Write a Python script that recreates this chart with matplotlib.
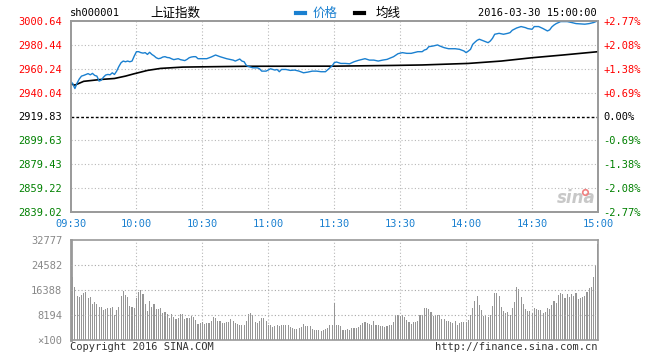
import matplotlib
matplotlib.use("Agg")
from matplotlib import pyplot as plt

# price line vertices (minute index from 09:30, price)
price_idx = [0, 1, 2, 3, 4, 5, 6, 7, 8, 9, 10, 11, 12, 13, 14, 15, 16, 17, 18, 19,
             20, 21, 22, 23, 24, 25, 26, 27, 28, 29, 30, 31, 32, 33, 34, 35, 36, 37, 38, 39,
             40, 41, 42, 43, 44, 45, 46, 47, 48, 49, 50, 51, 52, 53, 54, 55, 56, 57, 58,
             60, 62, 64, 66, 68, 71, 74, 75, 77, 78, 79, 80, 81, 83, 85, 86, 87, 89, 91,
             93, 94, 95, 96, 98, 100, 102, 104, 106, 108, 110, 112, 114, 116, 118, 119,
             120, 121, 123, 125, 127, 129, 131, 134, 136, 138, 140, 142, 144, 147, 149,
             151, 153, 155, 158, 160, 161, 162, 163, 165, 167, 168, 170, 172, 175, 177,
             179, 180, 181, 182, 183, 184, 185, 186, 188, 190, 191, 192, 193, 195, 197,
             199, 200, 201, 203, 205, 207, 208, 210, 211, 213, 215, 217, 218, 219, 220,
             221, 223, 226, 228, 230, 234, 236, 238, 239, 240]
price = [2949.7, 2947.5, 2943.4, 2948.0, 2951.5, 2953.9, 2954.5, 2955.3, 2956.0, 2955.0,
         2956.2, 2954.5, 2953.9, 2949.7, 2950.5, 2953.0, 2954.8, 2955.3, 2955.0, 2956.7,
         2955.3, 2958.1, 2962.0, 2965.2, 2966.6, 2966.0, 2966.6, 2966.0, 2966.6, 2970.8,
         2974.5, 2974.5, 2973.7, 2973.3, 2973.7, 2972.2, 2974.0, 2972.2, 2971.0, 2969.4,
         2968.6, 2969.0, 2970.0, 2970.3, 2969.6, 2969.4, 2968.5, 2967.8, 2968.2, 2968.6,
         2967.8, 2967.4, 2967.0, 2968.0, 2969.4, 2970.0, 2970.3, 2970.3, 2968.6,
         2968.6, 2968.6, 2970.0, 2971.7, 2970.3, 2968.6, 2967.4, 2966.6, 2968.3, 2966.6,
         2966.0, 2962.9, 2962.0, 2960.9, 2960.9, 2960.1, 2958.1, 2958.1, 2960.1,
         2959.0, 2959.5, 2957.6, 2959.5, 2959.5, 2958.7, 2959.0, 2958.1, 2956.7, 2957.3,
         2958.1, 2958.1, 2957.6, 2957.6, 2960.9, 2962.4,
         2965.2, 2965.8, 2964.6, 2964.6, 2964.3, 2966.0, 2967.2, 2968.6, 2967.4, 2967.4,
         2966.6, 2967.4, 2968.0, 2970.3, 2972.8,
         2973.7, 2973.1, 2973.1, 2974.5, 2974.5, 2975.9, 2976.5, 2978.7, 2979.3, 2980.2,
         2979.3, 2977.9, 2977.0, 2977.0, 2976.5,
         2975.1, 2973.7, 2975.0, 2976.5, 2980.7, 2982.5, 2984.1, 2985.0, 2983.5, 2982.1,
         2983.5, 2985.8, 2989.2, 2990.0, 2989.2,
         2990.0, 2990.6, 2992.6, 2994.5, 2995.7, 2994.8, 2994.0, 2993.4, 2995.7, 2995.7,
         2994.0, 2992.0, 2992.9, 2995.4, 2997.0,
         2998.2, 2999.9, 2999.9, 2999.1, 2998.2, 2997.7, 2998.2, 2999.1, 2999.9, 3000.64]

# average line vertices
avg_idx = [0, 2, 6, 14, 20, 25, 29, 35, 41, 51, 63, 80, 120, 147, 160, 181, 196, 210, 224, 240]
avg_price = [2947.4, 2946.3, 2949.5, 2951.1, 2951.9, 2953.9, 2955.9, 2958.7, 2960.4, 2961.5,
             2961.8, 2962.2, 2962.3, 2962.9, 2963.3, 2964.6, 2966.6, 2969.4, 2971.7, 2974.5]

# minute volume (x100), one bar per minute, 241 bars
volume = [32777,
          20770, 17490, 14430, 14100, 14760, 15410, 15740, 13880, 14100, 11800,
          12460, 11800, 10820, 10820, 9950, 10270, 10490, 10490, 10820, 8200,
          9840, 10820, 14430, 16180, 14760, 14100, 11150, 10930, 10490, 13770,
          15740, 16500, 15080, 11800, 9510, 12790, 10820, 11800, 10170, 10170,
          10490, 8850, 9180, 8530, 7210, 8530, 7540, 6890, 7210, 8530,
          8530, 6890, 7210, 7210, 7870, 7650, 6560, 5250, 5570, 5900,
          5250, 5570, 5570, 6230, 7540, 7210, 6230, 6230, 5570, 5570,
          5900, 5900, 6890, 6230, 5570, 5250, 4920, 4920, 4920, 6230,
          8530, 8850, 8090, 5900, 5570, 6230, 7210, 7210, 6230, 4920,
          4920, 4260, 4590, 4920, 4590, 4920, 4920, 4920, 4920, 4260,
          3930, 3610, 3610, 3930, 4260, 5250, 4590, 4590, 4590, 3610,
          3280, 3280, 3280, 2950, 3280, 3610, 3930, 4920, 4920,
          12130,
          4920, 4920, 4590, 3280, 3280, 3610, 3280, 3930, 3930, 3930,
          4260, 4920, 5570, 5900, 5570, 5250, 4920, 6230, 4920, 4920,
          4590, 4590, 4260, 4590, 4920, 4920, 5900, 8200, 8200, 7870,
          8200, 7540, 6560, 5900, 5250, 5900, 5900, 6230, 8200,
          8200, 10490, 10490, 10170, 9180, 7870, 8200, 8200, 8200, 6890,
          6890, 6230, 6230, 5900, 5570, 6230, 4920, 5570, 5900, 5900,
          5900, 6560, 8200, 10490, 12790, 14430, 11480, 9840, 7870, 7870,
          7540, 8200, 11150, 15410, 15410, 14430, 10820, 9510, 8850, 9180,
          8200, 10490, 12460, 17380, 16720, 14100, 11800, 10170, 9510, 9510,
          8850, 10490, 10170, 9840, 9840, 8850, 9180, 10490, 10170, 11480,
          12790, 12130, 14760, 15410, 15080, 13770, 15080, 14100, 15080, 14430,
          15410, 13440, 13770, 14100, 14430, 15740, 17050, 17380, 20660, 24260,
          31480]

pre_close = 2919.83
price_ticks = [2839.02, 2859.22, 2879.43, 2899.63, 2919.83, 2940.04, 2960.24, 2980.44, 3000.64]
pct_labels = ["-2.77%", "-2.08%", "-1.38%", "-0.69%", "0.00%", "+0.69%", "+1.38%", "+2.08%", "+2.77%"]
time_ticks = [0, 30, 60, 90, 120, 150, 180, 210, 240]
time_labels = ["09:30", "10:00", "10:30", "11:00", "11:30", "13:30", "14:00", "14:30", "15:00"]
vol_ticks = [0, 8194, 16388, 24582, 32777]
vol_labels = ["×100", "8194", "16388", "24582", "32777"]

mono = "DejaVu Sans Mono"
cjk = ["Noto Sans CJK SC", "DejaVu Sans"]
blue = "#1a80d0"
red = "#ff0000"
green = "#008000"
border = "#999999"
gridc = "#b8b8b8"

fig = plt.figure(figsize=(6.6, 3.6), dpi=100)
W, H = 660.0, 360.0
ax = fig.add_axes([70.5 / W, 1 - 212.3 / H, (598 - 70.5) / W, (212.3 - 20.7) / H])
axv = fig.add_axes([70.5 / W, 1 - 340 / H, (598 - 70.5) / W, 100 / H])

# price panel
ax.set_xlim(0, 240)
ax.set_ylim(price_ticks[0], price_ticks[-1])
for y in price_ticks[1:-1]:
    if y == pre_close:
        ax.axhline(y, color="black", lw=1, ls=(0, (2, 1.5)), zorder=2)
    else:
        ax.axhline(y, color=gridc, lw=0.8, ls=(0, (1, 2)), zorder=1)
for t in time_ticks[1:-1]:
    ax.axvline(t, color=gridc, lw=0.8, ls=(0, (1, 2)), zorder=1)
ax.plot(avg_idx, avg_price, color="black", lw=1.2, zorder=3)
ax.plot(price_idx, price, color=blue, lw=1.0, zorder=4)

ax.set_xticks(time_ticks)
ax.set_xticklabels(time_labels, fontfamily=mono, fontsize=7.5, color=blue)
ax.set_yticks(price_ticks)
ax.set_yticklabels(["%.2f" % v for v in price_ticks], fontfamily=mono, fontsize=7.5)
ax.tick_params(length=0, pad=6)
ax.tick_params(axis="x", pad=5)
for lab, v in zip(ax.get_yticklabels(), price_ticks):
    lab.set_color(red if v > pre_close + 0.01 else (green if v < pre_close - 0.01 else "black"))

axr = ax.twinx()
axr.set_ylim(ax.get_ylim())
axr.set_yticks(price_ticks)
axr.set_yticklabels(pct_labels, fontfamily=mono, fontsize=7.5)
axr.tick_params(length=0, pad=4)
for lab, v in zip(axr.get_yticklabels(), price_ticks):
    lab.set_color(red if v > pre_close + 0.01 else (green if v < pre_close - 0.01 else "black"))

for a in (ax, axr):
    for s in a.spines.values():
        s.set_color(border)
        s.set_linewidth(1.2)

# sina watermark
ax.text(0.995, 0.03, "sina", transform=ax.transAxes, ha="right", va="bottom",
        fontsize=12, fontstyle="italic", fontweight="bold", color="#c8c8c8", zorder=1)
ax.plot([234], [2856.5], "o", ms=4, mfc="none", mec="#f08080", mew=1.2, zorder=1)

# volume panel
axv.set_xlim(0, 240)
axv.set_ylim(0, 32777)
axv.bar(range(len(volume)), volume, width=0.5, color="#969696", antialiased=False, zorder=2)
for y in vol_ticks[1:-1]:
    axv.axhline(y, color="#a8a8a8", lw=0.8, ls=(0, (1, 2)), zorder=3)
for t in time_ticks[1:-1]:
    axv.axvline(t, color=gridc, lw=0.8, ls=(0, (1, 2)), zorder=1)
axv.set_xticks([])
axv.set_yticks(vol_ticks)
axv.set_yticklabels(vol_labels, fontfamily=mono, fontsize=7.5, color="#888888")
axv.tick_params(length=0, pad=6)
for s in axv.spines.values():
    s.set_color(border)
    s.set_linewidth(1.2)
axv.spines["left"].set_linewidth(2)

# header
fig.text(70 / W, 1 - 13 / H, "sh000001", fontfamily=mono, fontsize=7.5, va="center", ha="left")
fig.text(150 / W, 1 - 13 / H, "上证指数", fontfamily=cjk, fontsize=9, va="center", ha="left")
fig.lines.append(plt.Line2D([296 / W, 305 / W], [1 - 13 / H, 1 - 13 / H], transform=fig.transFigure,
                            color=blue, lw=3))
fig.text(313 / W, 1 - 13 / H, "价格", fontfamily=cjk, fontsize=9, color=blue, va="center", ha="left")
fig.lines.append(plt.Line2D([355 / W, 364 / W], [1 - 13 / H, 1 - 13 / H], transform=fig.transFigure,
                            color="black", lw=3))
fig.text(376 / W, 1 - 13 / H, "均线", fontfamily=cjk, fontsize=9, va="center", ha="left")
fig.text(597 / W, 1 - 13 / H, "2016-03-30 15:00:00", fontfamily=mono, fontsize=7.5,
         va="center", ha="right")

# footer
fig.text(70 / W, 1 - 347 / H, "Copyright 2016 SINA.COM", fontfamily=mono, fontsize=7.5,
         color="#333333", va="center", ha="left")
fig.text(598 / W, 1 - 347 / H, "http://finance.sina.com.cn", fontfamily=mono, fontsize=7.5,
         color="#333333", va="center", ha="right")

fig.savefig("out.png", dpi=100)
